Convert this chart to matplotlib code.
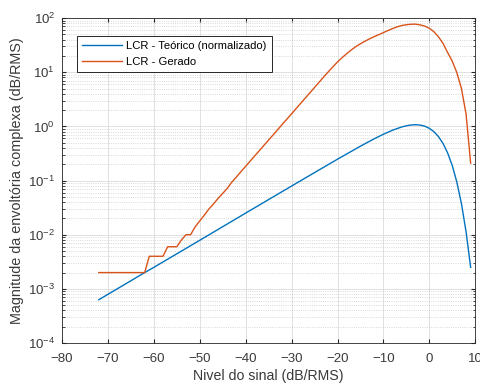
import matplotlib
matplotlib.use('Agg')
import matplotlib.pyplot as plt
import numpy as np

plt.rcParams['font.family'] = ['Liberation Sans', 'DejaVu Sans']

# nivel do sinal (dB/RMS)
nivel_teo = [-72, -62, -60, -50, -40, -30, -25, -20, -15, -12, -10, -8, -6, -5, -4,
             -3, -2, -1, 0, 1, 2, 3, 4, 5, 6, 7, 8, 9]
lcr_teo = [6.3e-4, 2.0e-3, 2.5e-3, 7.9e-3, 0.0251, 0.0792, 0.1405, 0.248, 0.432, 0.591,
           0.717, 0.852, 0.978, 1.027, 1.062, 1.075, 1.059, 1.010, 0.922, 0.799,
           0.647, 0.482, 0.322, 0.189, 0.0934, 0.0374, 0.0114, 0.0025]

nivel_ger = list(range(-72, 10))
lcr_ger = [0.002, 0.002, 0.002, 0.002, 0.002, 0.002, 0.002, 0.002, 0.002, 0.002, 0.002,  # -72..-62
           0.004, 0.004, 0.004, 0.004,                                                   # -61..-58
           0.006, 0.006, 0.006,                                                          # -57..-55
           0.008, 0.010, 0.010, 0.014, 0.018, 0.023, 0.030, 0.037, 0.047, 0.058,         # -54..-45
           0.072, 0.094, 0.117, 0.147, 0.184, 0.23, 0.287, 0.359, 0.449, 0.561,          # -44..-35
           0.70, 0.877, 1.10, 1.37, 1.71, 2.14, 2.68, 3.35, 4.19, 5.24,                  # -34..-25
           6.55, 8.2, 10.2, 12.6, 15.5, 18.6, 22.0, 25.8, 29.8, 33.6,                    # -24..-15
           37.5, 41.5, 45.5, 49.5, 54.0, 59.0, 64.0, 69.0, 73.0, 75.5,                   # -14..-5
           77.0, 77.3, 75.0, 71.0, 65.0, 56.0, 45.0, 34.0, 23.0, 16.0,                   # -4..5
           9.8, 5.0, 1.7, 0.21]                                                          # 6..9

fig = plt.figure(figsize=(4.81, 3.85), dpi=100)
ax = fig.add_axes([0.129, 0.109, 0.859, 0.844])

ax.semilogy(nivel_teo, lcr_teo, color='#0072BD', lw=1.0, label='LCR - Teórico (normalizado)')
ax.semilogy(nivel_ger, lcr_ger, color='#D95319', lw=1.0, label='LCR - Gerado')

ax.set_xlim(-80, 10)
ax.set_ylim(1e-4, 1e2)
ax.set_xticks(np.arange(-80, 11, 10))
ax.set_yticks([1e-4, 1e-3, 1e-2, 1e-1, 1e0, 1e1, 1e2])

ax.grid(True, which='major', color='#dcdcdc', lw=0.6, ls='-')
ax.grid(True, which='minor', axis='y', color='#cccccc', lw=0.6, ls=':')
ax.set_axisbelow(True)

ax.tick_params(which='both', direction='in', top=True, right=True, colors='#262626',
               labelsize=9.5, labelcolor='#3a3a3a')
ax.tick_params(which='major', length=3)
ax.tick_params(which='minor', length=1.8)
ax.tick_params(axis='x', pad=7)
ax.tick_params(axis='y', pad=5)
for s in ax.spines.values():
    s.set_color('#262626')
    s.set_linewidth(0.6)

ax.set_xlabel('Nivel do sinal (dB/RMS)', fontsize=10.2, color='#3a3a3a', labelpad=3)
ax.set_ylabel('Magnitude da envoltória complexa (dB/RMS)', fontsize=10.4, color='#3a3a3a', labelpad=3)

leg = ax.legend(loc='upper left', bbox_to_anchor=(0.036, 0.945), fontsize=8.1, frameon=True,
                fancybox=False, edgecolor='#262626', framealpha=1, borderpad=0.45,
                handlelength=3.6, handletextpad=0.35, labelspacing=0.55, borderaxespad=0)
leg.get_frame().set_linewidth(0.7)

fig.savefig('out.png', dpi=100)
